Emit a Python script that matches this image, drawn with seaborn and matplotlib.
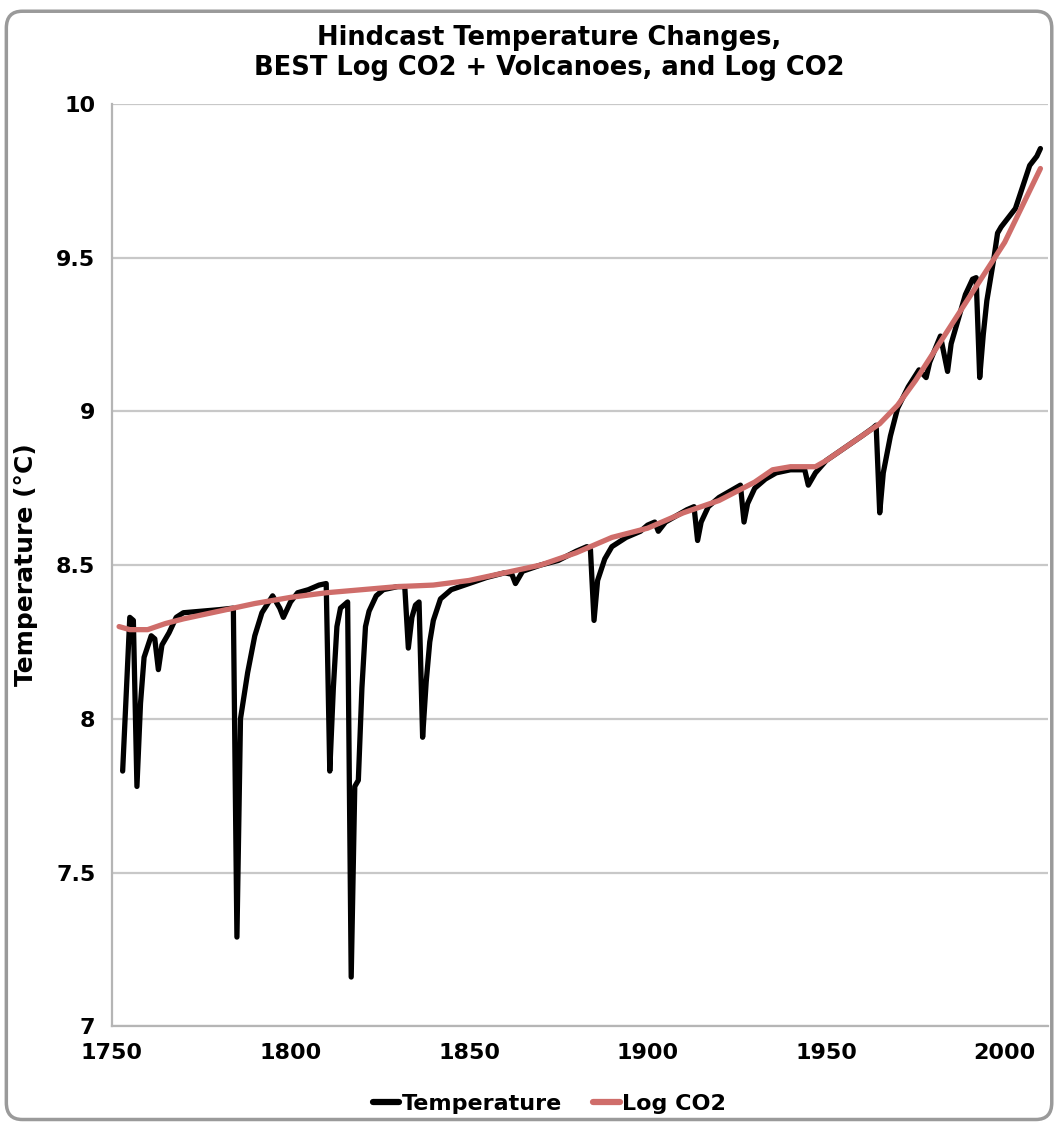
import numpy as np
import pandas as pd
import matplotlib
matplotlib.use("Agg")
import matplotlib.pyplot as plt
import seaborn as sns
from matplotlib.patches import FancyBboxPatch

# Hindcast temperature (black) at the visible turning points
temp_years = [1753, 1755, 1756, 1757, 1758, 1759, 1761, 1762, 1763, 1764, 1766, 1768,
              1770, 1775, 1780, 1784, 1785, 1786, 1788, 1790, 1792, 1795, 1797, 1798,
              1800, 1802, 1805, 1808, 1810, 1811, 1812, 1813, 1814, 1816, 1817, 1818,
              1819, 1820, 1821, 1822, 1824, 1826, 1830, 1832, 1833, 1834, 1835, 1836,
              1837, 1838, 1839, 1840, 1842, 1845, 1850, 1855, 1860, 1862, 1863, 1865,
              1870, 1875, 1880, 1883, 1884, 1885, 1886, 1888, 1890, 1894, 1898, 1900,
              1902, 1903, 1905, 1908, 1911, 1913, 1914, 1915, 1917, 1920, 1923, 1926,
              1927, 1928, 1930, 1933, 1936, 1940, 1944, 1945, 1947, 1950, 1955, 1960,
              1963, 1964, 1965, 1966, 1968, 1970, 1973, 1976, 1978, 1979, 1982, 1984,
              1985, 1987, 1989, 1991, 1992, 1993, 1994, 1995, 1997, 1998, 1999, 2001,
              2003, 2005, 2007, 2009, 2010]
temp_values = [7.83, 8.33, 8.32, 7.78, 8.05, 8.20, 8.27, 8.26, 8.16, 8.24, 8.28, 8.33,
               8.345, 8.35, 8.355, 8.36, 7.29, 8.00, 8.15, 8.27, 8.345, 8.40, 8.36, 8.33,
               8.38, 8.41, 8.42, 8.435, 8.44, 7.83, 8.10, 8.30, 8.36, 8.38, 7.16, 7.78,
               7.80, 8.10, 8.30, 8.35, 8.40, 8.42, 8.43, 8.43, 8.23, 8.33, 8.37, 8.38,
               7.94, 8.12, 8.25, 8.32, 8.39, 8.42, 8.44, 8.46, 8.475, 8.47, 8.44, 8.48,
               8.50, 8.515, 8.545, 8.56, 8.55, 8.32, 8.45, 8.52, 8.56, 8.59, 8.61, 8.63,
               8.64, 8.61, 8.64, 8.66, 8.68, 8.69, 8.58, 8.64, 8.69, 8.72, 8.74, 8.76,
               8.64, 8.70, 8.75, 8.78, 8.80, 8.81, 8.81, 8.76, 8.80, 8.84, 8.88, 8.92,
               8.945, 8.955, 8.67, 8.80, 8.92, 9.01, 9.08, 9.135, 9.11, 9.16, 9.245, 9.13,
               9.22, 9.30, 9.38, 9.43, 9.435, 9.11, 9.25, 9.36, 9.50, 9.58, 9.60, 9.63,
               9.66, 9.73, 9.80, 9.83, 9.855]

# Log CO2 fit (red)
co2_years = [1752, 1755, 1760, 1765, 1770, 1780, 1790, 1800, 1810, 1820, 1830, 1840,
             1850, 1860, 1870, 1880, 1890, 1900, 1910, 1920, 1930, 1935, 1940, 1947,
             1950, 1955, 1960, 1965, 1970, 1975, 1980, 1985, 1990, 1995, 2000, 2005, 2010]
co2_values = [8.30, 8.29, 8.29, 8.31, 8.325, 8.35, 8.375, 8.395, 8.41, 8.42, 8.43, 8.435,
              8.45, 8.475, 8.50, 8.54, 8.59, 8.62, 8.67, 8.71, 8.77, 8.81, 8.82, 8.82,
              8.84, 8.88, 8.92, 8.96, 9.02, 9.10, 9.19, 9.28, 9.37, 9.46, 9.55, 9.67, 9.79]

x_ticks = [1750, 1800, 1850, 1900, 1950, 2000]
y_ticks = [7, 7.5, 8, 8.5, 9, 9.5, 10]
y_tick_labels = ['7', '7.5', '8', '8.5', '9', '9.5', '10']

sns.set_style("white")
plt.rcParams['font.family'] = ['DejaVu Sans']
plt.rcParams['font.weight'] = 'bold'
plt.rcParams['text.color'] = 'black'
plt.rcParams['axes.labelcolor'] = 'black'

df = pd.concat([
    pd.DataFrame({'Year': temp_years, 'Value': temp_values, 'Series': 'Temperature'}),
    pd.DataFrame({'Year': co2_years, 'Value': co2_values, 'Series': 'Log CO2'}),
], ignore_index=True)

fig = plt.figure(figsize=(10.56, 11.24), dpi=100)
ax = fig.add_axes([0.106, 0.087, 0.886, 0.8205])

palette = {'Temperature': 'black', 'Log CO2': '#cf6d6a'}
sns.lineplot(data=df, x='Year', y='Value', hue='Series', palette=palette,
             linewidth=3.8, ax=ax, legend=False, estimator=None)

ax.set_xlim(1750, 2012)
ax.set_ylim(7, 10)
ax.set_xticks(x_ticks)
ax.set_xticklabels([str(t) for t in x_ticks], fontsize=16, fontweight='bold')
ax.set_yticks(y_ticks)
ax.set_yticklabels(y_tick_labels, fontsize=16, fontweight='bold')
ax.set_xlabel('')
ax.set_ylabel('Temperature (°C)', fontsize=18, fontweight='bold', labelpad=13)
ax.yaxis.grid(True, color='#c8c8c8', linewidth=1.6)
ax.xaxis.grid(False)
for s in ['top', 'right']:
    ax.spines[s].set_visible(False)
for s in ['left', 'bottom']:
    ax.spines[s].set_color('#b5b5b5')
    ax.spines[s].set_linewidth(1.6)
ax.tick_params(axis='both', direction='out', length=6, width=1.4, color='#b5b5b5',
               labelcolor='black', pad=6)

fig.text(0.52, 0.953, 'Hindcast Temperature Changes,\nBEST Log CO2 + Volcanoes, and Log CO2',
         ha='center', va='center', fontsize=18.5, fontweight='bold', linespacing=1.2)

handles = [plt.Line2D([], [], color=palette['Temperature'], lw=4.5),
           plt.Line2D([], [], color=palette['Log CO2'], lw=4.5)]
fig.legend(handles, ['Temperature', 'Log CO2'], loc='center', bbox_to_anchor=(0.52, 0.018),
           ncol=2, frameon=False, fontsize=16, handlelength=1.2, handletextpad=0.1,
           columnspacing=1.4)

border = FancyBboxPatch((0.006, 0.004), 0.99, 0.986, boxstyle='round,pad=0,rounding_size=0.015',
                        transform=fig.transFigure, fill=False, ec='#9a9a9a', lw=2.5)
fig.patches.append(border)

plt.savefig('out.png', dpi=100)
